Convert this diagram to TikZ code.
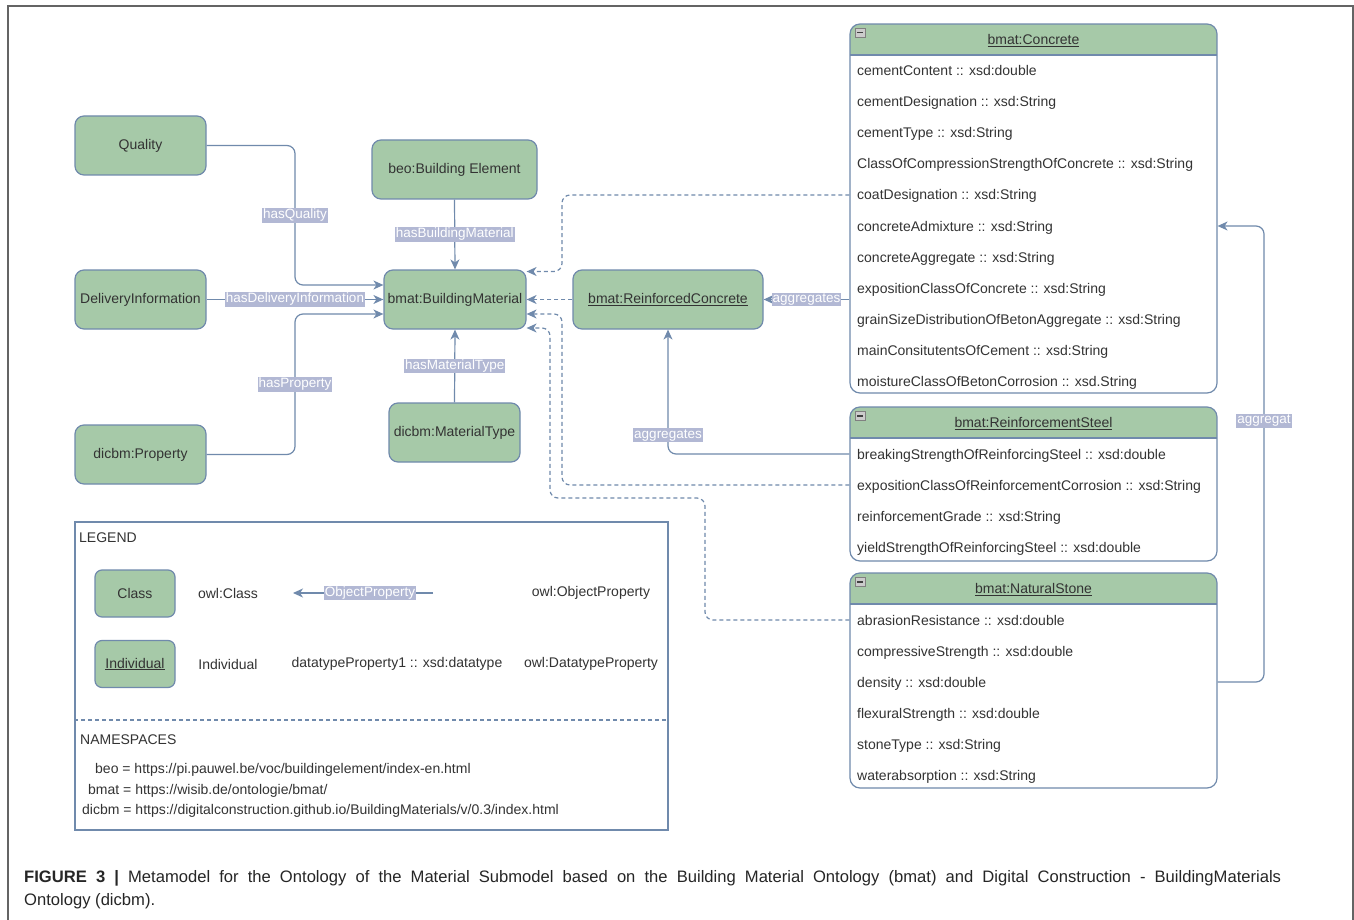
\documentclass[tikz,border=0pt]{standalone}
\usepackage{fontspec}
\setmainfont{Liberation Sans}
\usetikzlibrary{arrows.meta,calc}

\definecolor{boxgreen}{RGB}{166,201,168}
\definecolor{linec}{RGB}{112,138,172}
\definecolor{lblbg}{RGB}{178,184,212}
\definecolor{txt}{RGB}{51,51,51}
\definecolor{framec}{RGB}{100,100,100}

\tikzset{
  every node/.style={font=\fontsize{14}{16}\selectfont, text=txt},
  cls/.style={draw=linec, fill=boxgreen, rounded corners=9pt, line width=1.2pt,
    minimum width=131pt, minimum height=59pt, inner sep=2pt},
  rel/.style={draw=linec, line width=1.2pt, rounded corners=8pt,
    -{Stealth[length=10pt,width=9pt,inset=3pt]}},
  dep/.style={rel, dash pattern=on 4pt off 3pt},
  lbl/.style={fill=lblbg, text=white, inner sep=1pt, sharp corners, font=\fontsize{13.5}{15}\selectfont},
  classbox/.style={draw=linec, fill=white, rounded corners=10pt, line width=1.2pt,
    minimum width=367pt, inner sep=0pt,
    path picture={
      \fill[boxgreen, sharp corners] (path picture bounding box.north west)
        rectangle ([yshift=-31pt]path picture bounding box.north east);
      \draw[linec, line width=1.2pt, sharp corners] ([yshift=-31pt]path picture bounding box.north west)
        -- ([yshift=-31pt]path picture bounding box.north east);}},
  attr/.style={anchor=base west, inner sep=0pt},
  minusbox/.style={draw=gray, fill=gray!40, line width=0.6pt, sharp corners},
}

\begin{document}
\begin{tikzpicture}[x=1pt, y=-1pt]
    \useasboundingbox (0,0) rectangle (1354,920);
    \fill[white] (0,0) rectangle (1354,920);
    % frame
    \draw[framec, line width=1.5pt] (8,920) -- (8,6) -- (1353,6) -- (1353,920);

    % Classes
    \node[cls] (qual) at (140.5,145.5) {Quality};
    \node[cls] (deliv) at (140.5,299.5) {DeliveryInformation};
    \node[cls] (prop) at (140.5,454.5) {dicbm:Property};
    \node[cls, minimum width=165pt] (be) at (454.5,169.5) {beo:Building Element};
    \node[cls, minimum width=142pt] (bm) at (455,299.5) {bmat:BuildingMaterial};
    \node[cls] (mt) at (454.5,432.5) {dicbm:MaterialType};
    \node[cls, minimum width=190pt] (rc) at (668,299.5) {\underline{bmat:ReinforcedConcrete}};

    % Concrete
    \node[classbox, minimum height=369pt] (conc) at (1033.5,208.5) {};
    \node (conct) at ([yshift=-17.5pt]conc.north) {\underline{bmat:Concrete}};
    \draw[minusbox] ([shift={(6pt,-5pt)}]conc.north west) rectangle ++(10pt,-9pt);
    \draw[black!75, line width=1.2pt] ([shift={(8pt,-9.5pt)}]conc.north west) -- ++(6pt,0pt);
    \foreach \t [count=\i] in {cementContent :: xsd:double, cementDesignation :: xsd:String,
        cementType :: xsd:String, ClassOfCompressionStrengthOfConcrete :: xsd:String,
        coatDesignation :: xsd:String, concreteAdmixture :: xsd:String,
        concreteAggregate :: xsd:String, expositionClassOfConcrete :: xsd:String,
        grainSizeDistributionOfBetonAggregate :: xsd:String,
        mainConsitutentsOfCement :: xsd:String, moistureClassOfBetonCorrosion :: xsd.String}
        \node[attr] (conc\i) at (857,{45+31*\i}) {\t};

    % Reinforcement steel
    \node[classbox, minimum height=154pt] (steel) at (1033.5,484) {};
    \node (steelt) at ([yshift=-17.5pt]steel.north) {\underline{bmat:ReinforcementSteel}};
    \draw[minusbox] ([shift={(6pt,-5pt)}]steel.north west) rectangle ++(10pt,-9pt);
    \draw[black!75, line width=1.2pt] ([shift={(8pt,-9.5pt)}]steel.north west) -- ++(6pt,0pt);
    \foreach \t [count=\i] in {breakingStrengthOfReinforcingSteel :: xsd:double,
        expositionClassOfReinforcementCorrosion :: xsd:String,
        reinforcementGrade :: xsd:String, yieldStrengthOfReinforcingSteel :: xsd:double}
        \node[attr] (steel\i) at (857,{428+31*\i}) {\t};

    % Natural stone
    \node[classbox, minimum height=215pt] (stone) at (1033.5,680.5) {};
    \node (stonet) at ([yshift=-17.5pt]stone.north) {\underline{bmat:NaturalStone}};
    \draw[minusbox] ([shift={(6pt,-5pt)}]stone.north west) rectangle ++(10pt,-9pt);
    \draw[black!75, line width=1.2pt] ([shift={(8pt,-9.5pt)}]stone.north west) -- ++(6pt,0pt);
    \foreach \t [count=\i] in {abrasionResistance :: xsd:double, compressiveStrength :: xsd:double,
        density :: xsd:double, flexuralStrength :: xsd:double,
        stoneType :: xsd:String, waterabsorption :: xsd:String}
        \node[attr] (stone\i) at (857,{594+31*\i}) {\t};

    % Object properties
    \coordinate (jx) at (295,0);
    \draw[rel] (qual.east) -- (qual.east -| jx) |- ([yshift=14.5pt]bm.west)
        node[lbl, pos=0.25] {hasQuality};
    \draw[rel] (deliv.east) -- (bm.west) node[lbl, midway] {hasDeliveryInformation};
    \draw[rel] (prop.east) -- (prop.east -| jx) |- ([yshift=-14.5pt]bm.west)
        node[lbl, pos=0.25] {hasProperty};
    \draw[rel] (be.south) -- (bm.north) node[lbl, midway] {hasBuildingMaterial};
    \draw[rel] (mt.north) -- (bm.south) node[lbl, midway] {hasMaterialType};

    % aggregates
    \draw[rel] (conc.west |- rc.east) -- (rc.east) node[lbl, midway] {aggregates};
    \draw[rel] (steel.west |- 0,454) -| (rc.south) node[lbl, pos=0.576] {aggregates};
    \coordinate (rx) at (1264,421);
    \draw[rel] (stone.east |- 0,682) -| (rx) node[lbl] {aggregat} |- (conc.east |- 0,226);

    % subclass links (dashed)
    \coordinate (dx1) at (562,0);
    \coordinate (dx2) at (705,498);
    \coordinate (dx3) at (550,498);
    \draw[dep] (conc.west |- 0,195) -- (dx1 |- 0,195) |- ([yshift=28pt]bm.east);
    \draw[dep] (rc.west) -- (bm.east);
    \draw[dep] (steel.west |- 0,485) -- (dx1 |- 0,485) |- ([yshift=-14.5pt]bm.east);
    \draw[dep] (stone.west |- 0,620) -| (dx2) -- (dx3) |- ([yshift=-28.5pt]bm.east);

    % Legend
    \node[draw=linec, line width=1.2pt, minimum width=593pt, minimum height=308pt, inner sep=0pt]
        (legend) at (371.5,676) {};
    \node[anchor=west, inner sep=0pt] (legt) at (79,538) {LEGEND};
    \node[cls, minimum width=80pt, minimum height=47pt, rounded corners=7pt] (lgclass) at (135,593.5) {Class};
    \node (lgclasst) at (228,593) {owl:Class};
    \coordinate (opr) at (433,593);
    \coordinate (opl) at (293,593);
    \draw[rel] (opr) -- (opl) node[lbl, pos=0.45] {ObjectProperty};
    \node (lgopt) at (591,593) {owl:ObjectProperty};
    \node[cls, minimum width=80pt, minimum height=47pt, rounded corners=7pt] (lgind) at (135,664) {\underline{Individual}};
    \node (lgindt) at (228,664) {Individual};
    \node (lgdp) at (397,664) {datatypeProperty1 :: xsd:datatype};
    \node (lgdpt) at (591,664) {owl:DatatypeProperty};
    \draw[linec, line width=1.2pt, dash pattern=on 4pt off 3pt] (legend.west |- 0,720) -- (legend.east |- 0,720);
    \node[anchor=west, inner sep=0pt] (nst) at (80,740) {NAMESPACES};
    \node[anchor=west, inner sep=0pt] (ns1) at (95,770) {beo = https://pi.pauwel.be/voc/buildingelement/index-en.html};
    \node[anchor=west, inner sep=0pt] (ns2) at (88,791) {bmat = https://wisib.de/ontologie/bmat/};
    \node[anchor=west, inner sep=0pt] (ns3) at (82,811) {dicbm = https://digitalconstruction.github.io/BuildingMaterials/v/0.3/index.html};

    % Caption
    \node[anchor=north west, align=justify, text width=1257pt, inner sep=0pt, text=black!85,
        font=\fontsize{16.6}{23}\selectfont] (cap) at (24,870)
        {\textbf{FIGURE 3 |} Metamodel for the Ontology of the Material Submodel based on the Building Material Ontology (bmat) and Digital Construction - BuildingMaterials\linebreak Ontology (dicbm).};
\end{tikzpicture}
\end{document}
